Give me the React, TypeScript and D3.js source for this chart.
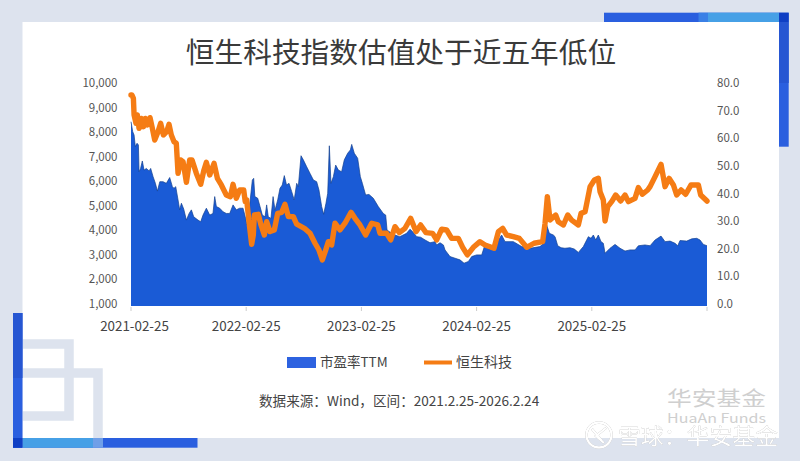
import * as d3 from "d3";

const width = 800;
const height = 461;
const FONT = '"Noto Sans CJK SC", "Noto Sans", sans-serif';

// months since 2021-02-25
const indexMonths = [
  0, 0.1, 0.25, 0.32, 0.52, 0.66, 0.84, 1.08, 1.29, 1.5, 1.7, 1.98, 2.19, 2.47, 2.82, 3.09, 3.37, 3.72, 3.96, 4.2,
  4.48, 4.72, 4.9, 5.18, 5.42, 5.77, 6.11, 6.36, 6.81, 7.26, 7.6, 7.85, 8.2, 8.65, 9, 9.41, 9.93, 10.35, 10.63, 10.97,
  11.32, 11.74, 11.9, 12.05, 12.29, 12.57, 12.74, 12.85, 13.26, 13.54, 13.89, 14.13, 14.48, 14.93, 15.28, 15.7, 16.04, 16.39, 16.91, 17.26,
  18.06, 18.65, 19.17, 19.58, 19.93, 20.28, 20.56, 20.9, 21.25, 21.77, 22.29, 22.92, 23.33, 23.85, 24.44, 25.07, 25.7, 25.94, 26.63, 27.05,
  27.5, 27.95, 28.54, 29.13, 29.69, 30.17, 30.73, 31.42, 31.84, 32.36, 32.88, 33.4, 34.1, 34.55, 35.04, 35.66, 36.35, 36.88, 37.81, 38.27,
  38.72, 39.13, 39.83, 40.45, 41.22, 41.98, 42.88, 43.13, 43.37, 43.65, 44.24, 44.51, 45.04, 45.49, 45.9, 46.6, 46.88, 47.3, 47.82, 48.27,
  48.68, 48.86, 49.2, 49.38, 49.66, 50.07, 50.49, 51.01, 51.46, 51.81, 52.5, 52.85, 53.27, 53.82, 54.07, 54.59, 55.21, 55.63, 56.05, 56.5,
  56.84, 57.3, 57.78, 58.34, 59.1, 59.34, 60,
];
// 恒生科技, left axis
const indexValues = [
  9590, 9590, 9457, 8780, 8440, 8780, 8235, 8640, 8300, 8640, 8370, 8670, 8300, 7760, 8100, 8440, 7965, 8100, 8400, 7965,
  7690, 7625, 6400, 6945, 6880, 6040, 6945, 6945, 6400, 5955, 6540, 6850, 6335, 6810, 6200, 5930, 5520, 5450, 5955, 5385,
  5725, 5725, 5250, 5320, 4435, 3510, 3890, 4705, 4735, 4300, 3890, 4435, 4030, 4100, 4775, 4815, 5140, 4640, 4640, 4330,
  4165, 3960, 3555, 3280, 2875, 3280, 3620, 3485, 4370, 4100, 4370, 4815, 4570, 4300, 3890, 4370, 4300, 3960, 3960, 3690,
  4230, 3990, 4165, 4570, 4030, 4300, 3990, 3960, 3690, 4125, 4095, 3755, 3755, 3390, 3080, 3390, 3620, 3485, 3350, 4030,
  4165, 3890, 3825, 3755, 3390, 3555, 3620, 4370, 5455, 4500, 4705, 4435, 4300, 4705, 4500, 4300, 4775, 4840, 5860, 6130,
  6200, 5655, 5320, 4460, 5045, 5250, 5520, 5275, 5520, 5250, 5385, 5820, 5550, 5725, 5860, 6270, 6770, 5860, 6200, 5930,
  5520, 5725, 5550, 5930, 5930, 5520, 5275,
];

const peMonths = [
  0, 0.18, 0.32, 0.45, 0.63, 0.77, 0.84, 1, 1.18, 1.36, 1.6, 1.88, 2.05, 2.3, 2.54, 2.75, 3, 3.34, 3.68, 4.03,
  4.31, 4.48, 4.66, 4.9, 5.07, 5.25, 5.49, 5.77, 6.05, 6.29, 6.53, 6.98, 7.26, 7.5, 7.85, 8.2, 8.54, 8.72, 8.89, 9.24,
  9.59, 9.93, 10.28, 10.63, 10.97, 11.32, 11.67, 11.9, 12.1, 12.4, 12.64, 12.78, 12.9, 13.2, 13.44, 13.68, 13.96, 14.13, 14.3, 14.58,
  14.8, 15, 15.28, 15.52, 15.76, 15.97, 16.2, 16.46, 16.74, 17, 17.26, 17.43, 17.71, 17.95, 18.3, 18.65, 19, 19.34, 19.58, 19.86,
  20.07, 20.31, 20.49, 20.66, 20.83, 21.08, 21.32, 21.6, 21.94, 22.22, 22.57, 22.85, 22.99, 23.26, 23.61, 23.89, 24.1, 24.44, 24.79, 25.24,
  25.76, 26.28, 26.53, 26.67, 27.15, 27.5, 28, 28.7, 29.06, 29.34, 29.76, 30.17, 30.63, 31.15, 31.67, 31.84, 32.19, 32.54, 32.71, 33.23,
  33.75, 34.27, 34.69, 35.14, 35.49, 36, 36.53, 36.81, 37.4, 37.92, 38.27, 38.61, 38.96, 39.83, 40.7, 41.56, 42.6, 43, 43.3, 43.58,
  43.99, 44.17, 44.45, 44.8, 45.2, 45.73, 46.18, 46.6, 47.12, 47.64, 47.92, 48.16, 48.41, 48.68, 48.96, 49.2, 49.38, 49.9, 50.42, 50.94,
  51.46, 51.98, 52.5, 52.85, 53.54, 54.07, 54.59, 55.21, 55.63, 56.15, 56.67, 56.95, 57.19, 57.89, 58.41, 58.93, 59.27, 59.62, 60,
];
// 市盈率TTM, right axis
const peValues = [
  66.7, 63.1, 61.9, 57.7, 58.9, 58.3, 48.6, 49.8, 52.5, 49.2, 49.8, 48.9, 49.8, 46.8, 44.4, 41.6, 45, 45, 44.4, 46.5,
  43.2, 42.6, 43.2, 38.4, 34.8, 37.2, 35.1, 31.1, 33.5, 34.8, 32.3, 31.1, 30.5, 32.9, 35.4, 32.9, 33.5, 39.6, 36, 35.4,
  34.1, 33.5, 33.5, 36.6, 34.8, 35.4, 35.4, 32.3, 29.3, 37.8, 45.6, 46.2, 39.6, 39, 36, 32.9, 32.3, 36.6, 32.3, 31.7,
  39.6, 34.7, 38.4, 42.6, 43.8, 47.2, 43.8, 44.4, 41.4, 38.4, 44.4, 43.2, 54.4, 52.9, 50.4, 48, 45.6, 45, 42, 36,
  33.2, 37.2, 40.8, 58, 44.4, 46.8, 51, 49.2, 48.6, 52.9, 55.3, 56.5, 58.5, 55.3, 53.5, 46.8, 44.4, 40.2, 40.4, 39,
  36, 33.5, 32.9, 27.5, 26.3, 25.7, 25.1, 26.3, 27.8, 26.9, 25.1, 24.9, 23.9, 22.9, 23.3, 22.1, 22.9, 22.1, 20.3, 17.9,
  17.3, 16.7, 15.5, 16.1, 17.9, 18.5, 18.5, 21.5, 20.5, 20.9, 23.9, 25.7, 23.3, 23.3, 21.5, 20.9, 21.5, 22.7, 29.3, 26.3,
  25.7, 25.1, 21.8, 21.1, 20.9, 21.1, 20.6, 19.4, 21.5, 25.1, 24.5, 25.7, 23.9, 25.7, 23.3, 22.7, 19.1, 20.9, 22.3, 20.9,
  19.9, 20.3, 20.3, 21.8, 22.1, 21.8, 23.9, 25.3, 23.3, 23.5, 22.7, 21.8, 23.7, 23.5, 24.3, 24.5, 23.9, 22.3, 21.8,
];

const xTickMonths = [0, 12, 24, 36, 48, 60];
const xTickLabels = ["2021-02-25", "2022-02-25", "2023-02-25", "2024-02-25", "2025-02-25", ""];
const leftTicks = [1000, 2000, 3000, 4000, 5000, 6000, 7000, 8000, 9000, 10000];
const rightTicks = [0, 10, 20, 30, 40, 50, 60, 70, 80];

const sourceNote = "数据来源\uFF1AWind\uFF0C区间\uFF1A2021.2.25-2026.2.24";
const siteMark = "雪球\uFF1A华安基金";

const plot = { left: 131, right: 707, top: 85, bottom: 306 };

const x = d3.scaleLinear().domain([0, 60]).range([plot.left, plot.right]);
const yLeft = d3.scaleLinear().domain([1000, 10000]).range([plot.bottom, plot.top]);
const yRight = d3.scaleLinear().domain([0, 80]).range([plot.bottom, plot.top]);

const peArea = d3
  .area<number>()
  .x((_, i) => x(peMonths[i]))
  .y0(plot.bottom)
  .y1((d) => yRight(d));
const peTop = d3
  .line<number>()
  .x((_, i) => x(peMonths[i]))
  .y((d) => yRight(d));
const indexLine = d3
  .line<number>()
  .x((_, i) => x(indexMonths[i]))
  .y((d) => yLeft(d));

const BG = "#dde3ee";
const BLUE = "#2a5fdf";
const SKY = "#46a0e6";
const DEEP = "#0f3fc4";

const App = () => (
  <svg
    width={width}
    height={height}
    style={{ position: "absolute", left: 0, top: 0 }}
    fontFamily={FONT}
  >
    {/* background card */}
    <rect width={width} height={height} fill={BG} />
    <rect x={22.5} y={22} width={756.5} height={416} fill="#fff" />

    {/* decorative squares, bottom left */}
    <g fill="none" stroke={BG} strokeWidth={9.5}>
      <path d="M22.5 344H69V416H22.5" />
      <path d="M22.5 373H98V438" />
    </g>

    {/* decorative bars */}
    <rect x={13} y={313} width={9.5} height={135} fill={BLUE} />
    <rect x={13} y={313} width={9.5} height={65} fill="#2656d2" />
    <rect x={22.5} y={438} width={175} height={9.7} fill={BLUE} />
    <rect x={22.5} y={438} width={70.5} height={9.7} fill={SKY} />
    <rect x={93} y={438} width={10} height={9.7} fill="#6f9fe8" />
    <rect x={13} y={438} width={9.5} height={9.7} fill={DEEP} />
    <rect x={604} y={12.7} width={175} height={9.3} fill={BLUE} />
    <rect x={698.5} y={12.7} width={9.5} height={9.3} fill="#3a80e6" />
    <rect x={708} y={12.7} width={71} height={9.3} fill={SKY} />
    <rect x={779} y={12.7} width={9.7} height={134} fill={BLUE} />
    <rect x={779} y={22} width={9.7} height={61} fill="#2656d2" />
    <rect x={779} y={12.7} width={9.7} height={9.3} fill={DEEP} />

    <text x={401} y={63} textAnchor="middle" fontSize={28.7} fontWeight={400} fill="#3a3a3a">
      恒生科技指数估值处于近五年低位
    </text>

    {/* marks */}
    <path d={peArea(peValues) ?? ""} fill="#1a5bd6" />
    <path d={peTop(peValues) ?? ""} fill="none" stroke="#12408f" strokeWidth={0.7} />
    <path
      d={indexLine(indexValues) ?? ""}
      fill="none"
      stroke="#f57c14"
      strokeWidth={5.4}
      strokeLinejoin="round"
      strokeLinecap="round"
    />

    {/* axes */}
    {leftTicks.map((t) => (
      <text key={t} x={117.5} y={yLeft(t) + 2} textAnchor="end" fontSize={11.5} fill="#555">
        {d3.format(",")(t)}
      </text>
    ))}
    {rightTicks.map((t) => (
      <text key={t} x={717} y={yRight(t) + 2} fontSize={11.5} fill="#555">
        {t.toFixed(1)}
      </text>
    ))}
    {xTickMonths.map((m, i) => (
      <g key={m}>
        <line x1={x(m)} x2={x(m)} y1={307} y2={311} stroke="#ccc" />
        <text x={x(m) + (i === 0 ? 3.5 : 0)} y={331} textAnchor="middle" fontSize={13.4} fill="#444">
          {xTickLabels[i]}
        </text>
      </g>
    ))}

    {/* legend */}
    <rect x={287} y={357} width={29} height={11} fill="#2d62e0" />
    <text x={320} y={367} fontSize={13.5} fill="#444">
      市盈率TTM
    </text>
    <line x1={424} x2={452} y1={362.5} y2={362.5} stroke="#f57c14" strokeWidth={4} />
    <text x={456} y={367} fontSize={14} fill="#444">
      恒生科技
    </text>

    <text x={259} y={406} fontSize={13.6} fill="#444">
      {sourceNote}
    </text>

    {/* watermark */}
    <text x={667} y={406} fontSize={20} fill="#cfcfcf" textLength={99} lengthAdjust="spacingAndGlyphs">
      华安基金
    </text>
    <text x={667} y={423} fontSize={13} fill="#cfcfcf" textLength={99} lengthAdjust="spacingAndGlyphs">
      HuaAn Funds
    </text>
    <g style={{ filter: "drop-shadow(0.7px 0.7px 0 #a0a0a0)" }}>
      <circle cx={599} cy={435} r={12.5} fill="none" stroke="#fff" strokeWidth={2.4} />
      <path d="M592 429L602 441M606 428L596 436L604 443" fill="none" stroke="#fff" strokeWidth={2.2} />
      <text x={618} y={444} fontSize={22} fill="#fff" textLength={160} lengthAdjust="spacingAndGlyphs">
        {siteMark}
      </text>
    </g>
  </svg>
);

export default App;
